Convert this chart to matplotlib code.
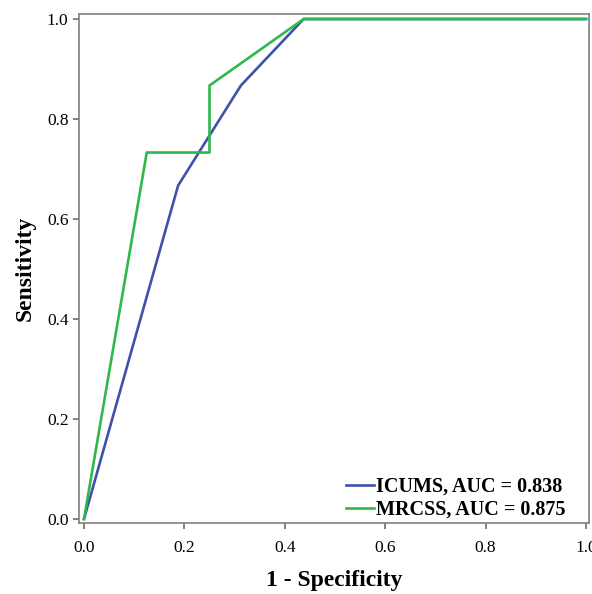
import matplotlib
matplotlib.use('Agg')
import matplotlib.pyplot as plt

# ROC points
icums_fpr = [0.0, 0.1875, 0.3125, 0.4375, 1.0]
icums_tpr = [0.0, 0.667, 0.867, 1.0, 1.0]
mrcss_fpr = [0.0, 0.125, 0.25, 0.25, 0.4375, 1.0]
mrcss_tpr = [0.0, 0.733, 0.733, 0.867, 1.0, 1.0]
labels = ['ICUMS, AUC = 0.838', 'MRCSS, AUC = 0.875']
ticks = [0.0, 0.2, 0.4, 0.6, 0.8, 1.0]

plt.rcParams['font.family'] = ['Liberation Serif', 'DejaVu Serif']

fig = plt.figure(figsize=(5.92, 5.94), dpi=100)
ax = fig.add_axes([0.1334, 0.1195, 0.8616, 0.8569])

ax.plot(icums_fpr, icums_tpr, color='#3f52a8', lw=1.9, label=labels[0])
ax.plot(mrcss_fpr, mrcss_tpr, color='#2fb84c', lw=1.9, label=labels[1])

ax.set_xlim(-0.01, 1.006)
ax.set_ylim(-0.008, 1.01)
ax.set_xticks(ticks)
ax.set_yticks(ticks)
ax.set_xticklabels([f'{t:.1f}' for t in ticks])
ax.set_yticklabels([f'{t:.1f}' for t in ticks])

for s in ax.spines.values():
    s.set_color('#808080')
    s.set_linewidth(1.2)
ax.tick_params(direction='out', length=4.5, width=1.1, color='#606060',
               labelsize=12.5)
ax.tick_params(axis='x', pad=8)
ax.tick_params(axis='y', pad=3)

ax.set_xlabel('1 - Specificity', fontsize=17, fontweight='bold', labelpad=10)
ax.set_ylabel('Sensitivity', fontsize=17, fontweight='bold', labelpad=8)

ax.legend(loc='lower right', frameon=False, prop={'weight': 'bold', 'size': 14.5},
          handlelength=1.4, handletextpad=0.1, borderaxespad=0.15,
          labelspacing=0.15, bbox_to_anchor=(0.975, -0.015))

fig.savefig('out.png', dpi=100)
